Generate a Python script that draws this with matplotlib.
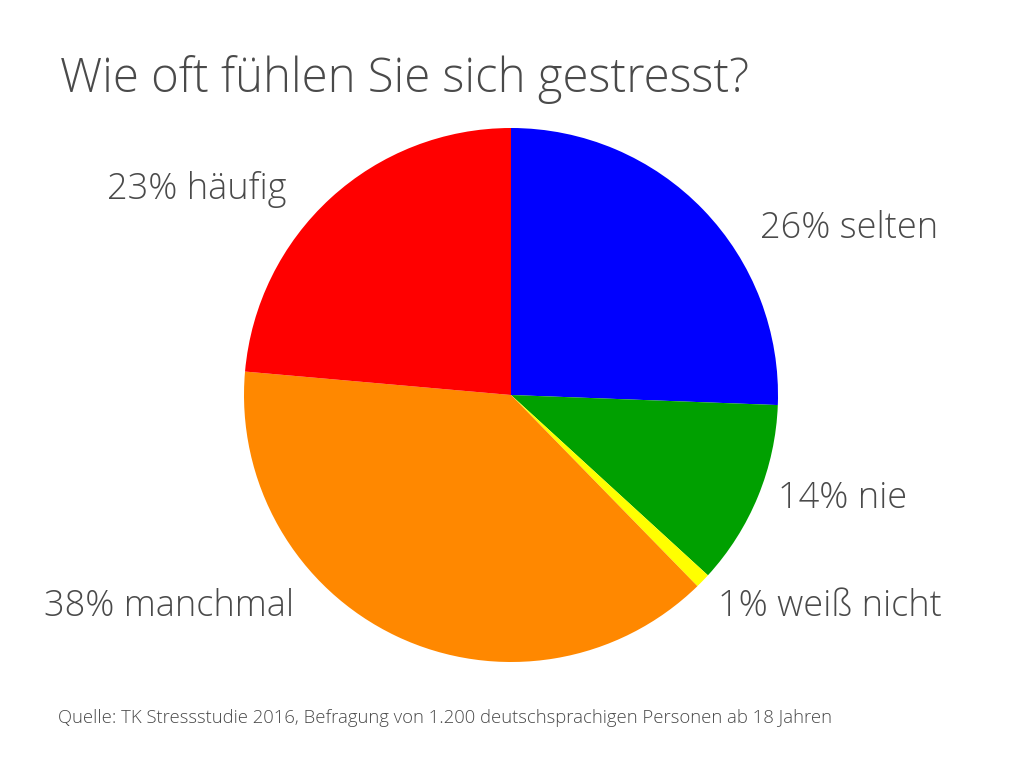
import matplotlib
matplotlib.use("Agg")
import matplotlib.pyplot as plt

categories = ["selten", "nie", "weiß nicht", "manchmal", "häufig"]
labels = ["26% selten", "14% nie", "1% weiß nicht", "38% manchmal", "23% häufig"]
sizes = [25.6, 11.2, 0.9, 38.7, 23.6]
colors = ["#0000ff", "#00a000", "#ffff00", "#ff8800", "#ff0000"]

title = "Wie oft fühlen Sie sich gestresst?"
source = "Quelle: TK Stressstudie 2016, Befragung von 1.200 deutschsprachigen Personen ab 18 Jahren"

plt.rcParams["font.family"] = ["Open Sans", "DejaVu Sans"]
text_color = "#4a4a4a"

W, H = 1024, 771
fig = plt.figure(figsize=(W / 100, H / 100), dpi=100)
ax = fig.add_axes([0, 0, 1, 1])

# pie in a flipped-y axes: counterclock=True draws clockwise on screen
ax.pie(sizes, colors=colors, startangle=-90, counterclock=True,
       center=(511, 395), radius=267, frame=True,
       wedgeprops=dict(linewidth=0))
ax.set_xlim(0, W)
ax.set_ylim(H, 0)
ax.axis("off")

# label positions (left x, center y) in pixels
label_pos = {
    "26% selten": (760, 229),
    "14% nie": (778, 498),
    "1% weiß nicht": (718, 606),
    "38% manchmal": (44, 606),
    "23% häufig": (107, 190),
}
for lab in labels:
    x, y = label_pos[lab]
    ax.text(x, y, lab, fontsize=26, color=text_color, ha="left", va="center",
            fontweight="light")

ax.text(60, 80, title, fontsize=34, color=text_color, ha="left", va="center",
        fontweight="light")
ax.text(58, 718, source, fontsize=13.3, color=text_color, ha="left", va="center",
        fontweight="light")

fig.savefig("out.png", dpi=100)
